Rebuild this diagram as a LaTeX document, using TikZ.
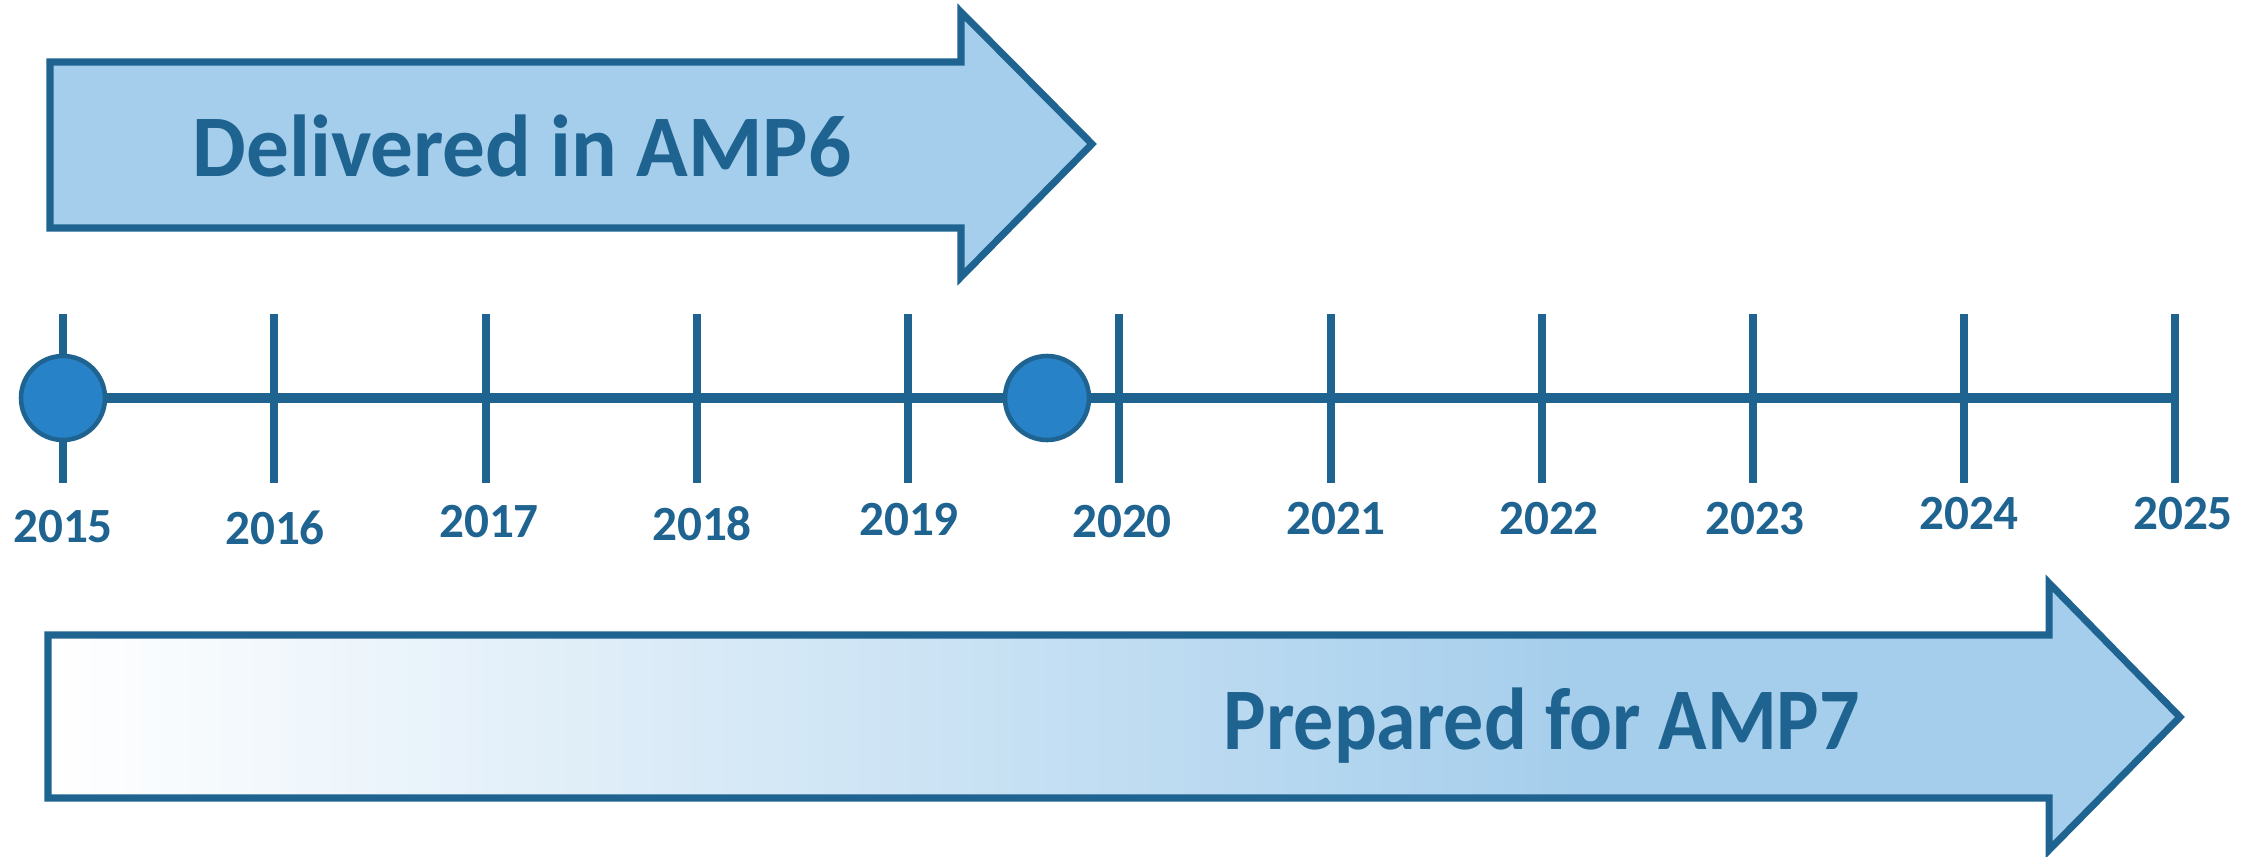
\documentclass[tikz,border=0pt]{standalone}
\usepackage{fontspec}
\setmainfont{Carlito}
\usepackage{xcolor}

\definecolor{ampdark}{RGB}{31,99,145}
\definecolor{amplight}{RGB}{165,206,236}
\definecolor{ampdot}{RGB}{40,130,200}

% white on the left, full blue from about three quarters on
\pgfdeclarehorizontalshading{ampfade}{100bp}{color(0bp)=(white); color(25bp)=(white); color(61bp)=(amplight); color(100bp)=(amplight)}

\begin{document}
\begin{tikzpicture}[scale = 1,
	band/.style = {draw = ampdark, line width = 2pt, line join = miter},
	tick/.style = {draw = ampdark, line width = 2.2pt},
	milestone/.style = {draw = ampdark, line width = 1.3pt, fill = ampdot},
	year/.style = {ampdark, font = \bfseries\fontsize{14}{16}\selectfont},
	headline/.style = {ampdark, font = \bfseries\fontsize{25}{30}\selectfont, anchor = base}]

	\useasboundingbox (0, 0) rectangle (22.59, 8.56); % Página

	% Seta superior
	\draw[band, fill = amplight] (0.50, 7.94) -- (9.61, 7.94) -- (9.61, 8.44) -- (10.92, 7.12) -- (9.61, 5.79) -- (9.61, 6.28) -- (0.50, 6.28) -- cycle;
	\node[headline, xscale = 0.97] (delivered) at (5.22, 6.80) {Delivered in AMP6};

	% Seta inferior
	\draw[band, shading = ampfade] (0.48, 2.21) -- (20.49, 2.21) -- (20.49, 2.73) -- (21.80, 1.39) -- (20.49, 0.06) -- (20.49, 0.58) -- (0.48, 0.58) -- cycle;
	\node[headline, xscale = 0.91] (prepared) at (15.42, 1.07) {Prepared for AMP7};

	% Linha do tempo
	\draw[ampdark, line width = 2.6pt] (0.63, 4.58) -- (21.75, 4.58);

	\draw[tick] ( 0.63, 5.42) -- ( 0.63, 3.73);
	\draw[tick] ( 2.74, 5.42) -- ( 2.74, 3.73);
	\draw[tick] ( 4.86, 5.42) -- ( 4.86, 3.73);
	\draw[tick] ( 6.97, 5.42) -- ( 6.97, 3.73);
	\draw[tick] ( 9.08, 5.42) -- ( 9.08, 3.73);
	\draw[tick] (11.19, 5.42) -- (11.19, 3.73);
	\draw[tick] (13.31, 5.42) -- (13.31, 3.73);
	\draw[tick] (15.42, 5.42) -- (15.42, 3.73);
	\draw[tick] (17.53, 5.42) -- (17.53, 3.73);
	\draw[tick] (19.64, 5.42) -- (19.64, 3.73);
	\draw[tick] (21.75, 5.42) -- (21.75, 3.73);

	\draw[milestone] ( 0.63, 4.58) circle (0.42);
	\draw[milestone] (10.47, 4.58) circle (0.42);

	\node[year] (y2015) at ( 0.63, 3.29) {2015};
	\node[year] (y2016) at ( 2.75, 3.28) {2016};
	\node[year] (y2017) at ( 4.89, 3.34) {2017};
	\node[year] (y2018) at ( 7.02, 3.32) {2018};
	\node[year] (y2019) at ( 9.09, 3.36) {2019};
	\node[year] (y2020) at (11.22, 3.34) {2020};
	\node[year] (y2021) at (13.36, 3.37) {2021};
	\node[year] (y2022) at (15.49, 3.37) {2022};
	\node[year] (y2023) at (17.55, 3.37) {2023};
	\node[year] (y2024) at (19.69, 3.42) {2024};
	\node[year] (y2025) at (21.83, 3.42) {2025};

\end{tikzpicture}
\end{document}
